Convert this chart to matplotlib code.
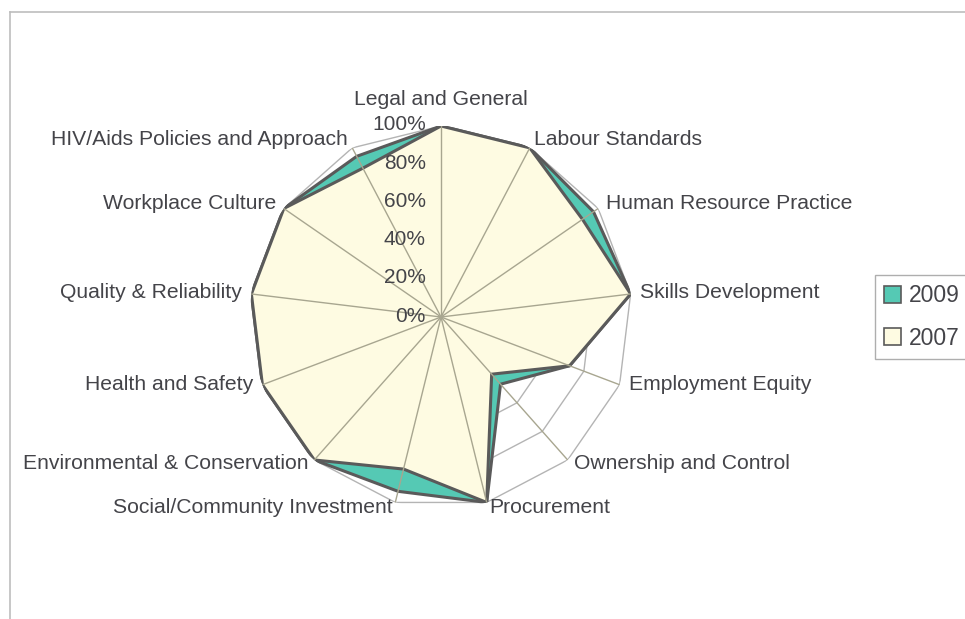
#!/usr/bin/env python3
# -*- coding: utf-8 -*-
"""
Radar chart: compliance scores by category, 2009 vs 2007
"""

import numpy as np
import matplotlib
matplotlib.use('Agg')
import matplotlib.pyplot as plt
from matplotlib.patches import Patch
from matplotlib.lines import Line2D
from matplotlib.transforms import ScaledTranslation

plt.rcParams['font.family'] = ['Liberation Sans', 'DejaVu Sans']

categories = ['Legal and General', 'Labour Standards', 'Human Resource Practice',
              'Skills Development', 'Employment Equity', 'Ownership and Control',
              'Procurement', 'Social/Community Investment',
              'Environmental & Conservation', 'Health and Safety',
              'Quality & Reliability', 'Workplace Culture',
              'HIV/Aids Policies and Approach']
scores_2009 = [100, 100, 97, 100, 72, 47, 100, 94, 100, 100, 100, 100, 95]
scores_2007 = [100, 100, 90, 100, 72, 40, 100, 82, 100, 100, 100, 100, 88]
ring_levels = [20, 40, 60, 80, 100]
tick_levels = [0, 20, 40, 60, 80, 100]

TEAL = '#55c9b4'
CREAM = '#fefbe2'
EDGE = '#5a5a5a'
TEXT = '#444449'

W, H = 965, 619
fig = plt.figure(figsize=(W / 100, H / 100), dpi=100)
fig.patch.set_facecolor('white')

# chart area frame (only top and left edges are visible in the crop)
fig.add_artist(Line2D([10 / W, 1], [1 - 12 / H, 1 - 12 / H], color='#bdbdbd', lw=1.2))
fig.add_artist(Line2D([10 / W, 10 / W], [0, 1 - 12 / H], color='#bdbdbd', lw=1.2))

cx, cy, R = 441, 317, 191
ax = fig.add_axes([(cx - R) / W, (H - cy - R) / H, 2 * R / W, 2 * R / H],
                  projection='polar')
ax.set_theta_offset(np.pi / 2)
ax.set_theta_direction(-1)
ax.set_ylim(0, 100)
ax.grid(False)
ax.set_xticks([])
ax.set_yticks([])
ax.spines['polar'].set_visible(False)
ax.patch.set_alpha(0)

n = len(categories)
angles = np.arange(n) * 2 * np.pi / n
closed = np.append(angles, angles[0])

# polygon rings behind the data
for r in ring_levels:
    ax.plot(closed, [r] * (n + 1), color='#b4b4b4', lw=1.0, zorder=1)

ax.fill(closed, np.append(scores_2009, scores_2009[0]), facecolor=TEAL,
        edgecolor=EDGE, lw=2.2, zorder=2)
ax.fill(closed, np.append(scores_2007, scores_2007[0]), facecolor=CREAM,
        edgecolor=EDGE, lw=2.2, zorder=3)

# spokes on top
for a in angles:
    ax.plot([a, a], [0, 100], color='#a8a690', lw=1.0, zorder=4)

# category labels
for a, lab in zip(angles, categories):
    s, c = np.sin(a), np.cos(a)
    if s > 0.1:
        ha = 'left'
    elif s < -0.1:
        ha = 'right'
    else:
        ha = 'center'
    r = 114 if ha == 'center' else 105
    dy = 0.04 if c < 0 else 0.0
    tr = ax.transData + ScaledTranslation(0, dy, fig.dpi_scale_trans)
    ax.text(a, r, lab, transform=tr, ha=ha, va='center', fontsize=15.2,
            color=TEXT, zorder=5)

# radial tick labels along the top axis
off = ax.transData + ScaledTranslation(-0.15, 0.01, fig.dpi_scale_trans)
for t in tick_levels:
    ax.text(0, t, f'{t}%', transform=off, ha='right', va='center',
            fontsize=15, color=TEXT, zorder=5)

handles = [Patch(facecolor=TEAL, edgecolor=EDGE, lw=1.2, label='2009'),
           Patch(facecolor=CREAM, edgecolor=EDGE, lw=1.2, label='2007')]
leg = fig.legend(handles=handles, loc='upper left',
                 bbox_to_anchor=(875 / W, 1 - 275 / H), borderaxespad=0,
                 fontsize=16.5, frameon=True, fancybox=False, handlelength=0.75,
                 handleheight=0.75, handletextpad=0.35, labelspacing=0.85,
                 borderpad=0.4)
leg.get_frame().set_edgecolor('#9a9a9a')
leg.get_frame().set_linewidth(1.0)
for t in leg.get_texts():
    t.set_color(TEXT)

fig.savefig('out.png', dpi=100)
